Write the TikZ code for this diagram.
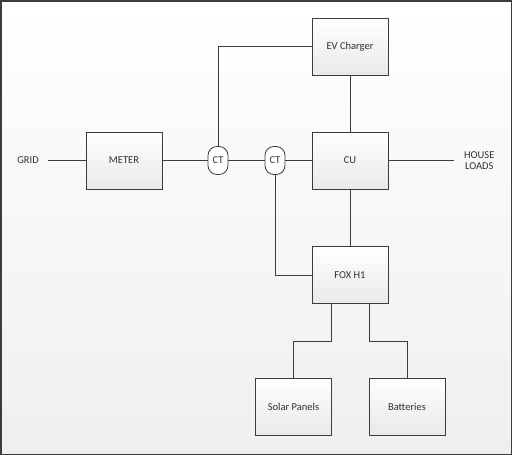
\documentclass[tikz,border=0pt]{standalone}
\usepackage{fontspec}
\setmainfont{Carlito}
\usetikzlibrary{positioning, calc}
\definecolor{fhline}{HTML}{3C3C3C}
\definecolor{fhtext}{HTML}{303030}
\definecolor{fhbg}{HTML}{EFEFEF}
\definecolor{fhbox}{HTML}{E9E9E9}

\begin{document}
\begin{tikzpicture}[x=1pt, y=-1pt,
    node distance=56pt and 38pt,
    box/.style={draw=fhline, line width=0.8pt, top color=white, bottom color=fhbox,
                minimum width=76pt, minimum height=57pt, inner sep=0pt,
                font=\fontsize{10.5}{12}\selectfont, text=fhtext},
    ctbox/.style={draw=fhline, line width=0.8pt, fill=white, rounded corners=9pt,
                  minimum width=20pt, minimum height=28pt, inner sep=0pt,
                  font=\fontsize{10.5}{12}\selectfont, text=fhtext},
    lbl/.style={align=center, font=\fontsize{10.5}{12}\selectfont, text=fhtext},
    wire/.style={fhline, line width=0.8pt}]
  % background and frame
  \useasboundingbox (0,0) rectangle (512,455);
  \shade[top color=white, bottom color=fhbg] (0,0) rectangle (512,455);
  \draw[fhline, line width=1.5pt] (0.75,0.75) rectangle (511.25,454.25);
  % main line
  \node[box] (cu) at (350,160.5) {CU};
  \node[box, above=56pt of cu] (ev) {EV Charger};
  \node[box, below=57pt of cu] (fox) {FOX H1};
  \node[box] (meter) at (124,160.5) {METER};
  \node[ctbox] (ct1) at (218,160.5) {CT};
  \node[ctbox] (ct2) at (275,160.5) {CT};
  \node[lbl, inner sep=1pt] (grid) at (28,160.5) {GRID};
  \node[lbl, anchor=west, inner sep=0pt, xshift=10pt] (house) at (454,160.5) {HOUSE\\[-1pt]LOADS};
  % storage side
  \node[box] (solar) at (293.5,406.5) {Solar Panels};
  \node[box] (batt) at (407,406.5) {Batteries};
  % wiring
  \draw[wire] ([xshift=8pt]grid.east) -- (meter);
  \draw[wire] (meter) -- (ct1); \draw[wire] (ct1) -- (ct2);
  \draw[wire] (ct2) -- (cu); \draw[wire] (cu.east) -- ([xshift=-10pt]house.west);
  \draw[wire] (ct1.north) |- (ev.west);
  \draw[wire] (ct2.south) |- (fox.west);
  \draw[wire] (ev) -- (cu); \draw[wire] (cu) -- (fox);
  \draw[wire] ([xshift=-19pt]fox.south) -- ++(0,37.5) -| (solar.north);
  \draw[wire] ([xshift=19pt]fox.south) -- ++(0,37.5) -| (batt.north);
\end{tikzpicture}
\end{document}
